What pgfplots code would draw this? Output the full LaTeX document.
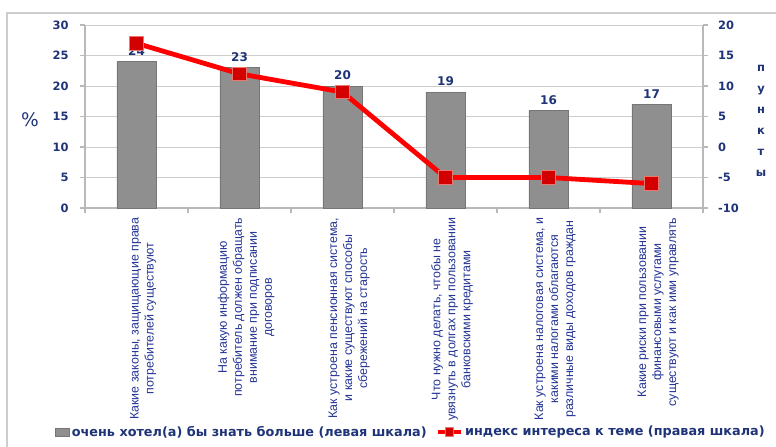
\documentclass[border=0pt]{standalone}
\usepackage{fontspec}
\setmainfont{Liberation Sans}
\newfontfamily\dvs{DejaVu Sans}
\newfontfamily\lib{Liberation Sans}
\usepackage{pgfplots}
\pgfplotsset{compat=1.18}
\definecolor{navy}{RGB}{31,52,120}
\definecolor{catblue}{RGB}{36,52,150}
\definecolor{gridgray}{RGB}{205,205,205}
\definecolor{axgray}{RGB}{185,185,185}
\definecolor{bargray}{RGB}{143,143,143}
\definecolor{bardark}{RGB}{118,118,118}
\definecolor{mkred}{RGB}{210,0,0}
\definecolor{mkedge}{RGB}{235,120,110}
\begin{document}
\begin{tikzpicture}
\useasboundingbox (0,0) rectangle (582pt,335.25pt);
% outer frame (top and left only visible)
\draw[color=gridgray, line width=1.1pt] (5.25pt,0pt) -- (5.25pt,325.5pt) -- (582pt,325.5pt);
\begin{axis}[
  at={(63.75pt,179.25pt)}, anchor=south west,
  scale only axis, width=463.5pt, height=137.25pt,
  xmin=-0.5, xmax=5.5, ymin=0, ymax=30,
  ybar, bar width=0.38,
  axis y line*=left, axis x line*=bottom,
  axis line style={color=axgray, line width=0.8pt},
  tick align=outside,
  ytick={0,5,...,30},
  ymajorgrids, grid style={color=gridgray, line width=0.7pt},
  major tick length=3.75pt, minor tick length=3.75pt,
  tick style={color=axgray, line width=0.8pt},
  xtick={0,...,5},
  major x tick style={draw=none},
  minor xtick={-0.5,0.5,...,5.5},
  xticklabels={
    {Какие законы, защищающие права\\потребителей существуют},
    {На какую информацию\\потребитель должен обращать\\внимание при подписании\\договоров},
    {Как устроена пенсионная система,\\и какие существуют способы\\сбережений на старость},
    {Что нужно делать, чтобы не\\увязнуть в долгах при пользовании\\банковскими кредитами},
    {Как устроена налоговая система, и\\какими налогами облагаются\\различные виды доходов граждан},
    {Какие риски при пользовании\\финансовыми услугами\\существуют и как ими управлять}},
  xticklabel style={rotate=90, anchor=east, align=center, text=catblue,
    font={\lib\fontsize{9.3}{11.25}\selectfont}, yshift=-5pt},
  yticklabel style={text=navy, font={\dvs\bfseries\fontsize{8.6}{10}\selectfont}, xshift=-5pt},
  /pgf/number format/assume math mode=true,
  nodes near coords,
  every node near coord/.append style={text=navy, font={\dvs\bfseries\fontsize{9}{10}\selectfont}, yshift=1pt},
]
\addplot[draw=bardark, line width=0.6pt, fill=bargray]
  coordinates {(0,24) (1,23) (2,20) (3,19) (4,16) (5,17)};
\end{axis}
\begin{axis}[
  at={(63.75pt,179.25pt)}, anchor=south west,
  scale only axis, width=463.5pt, height=137.25pt,
  xmin=-0.5, xmax=5.5, ymin=-10, ymax=20,
  axis y line*=right, axis x line=none,
  axis line style={color=axgray, line width=0.8pt},
  tick align=outside, major tick length=3.75pt,
  tick style={color=axgray, line width=0.8pt},
  ytick={-10,-5,...,20},
  yticklabel style={text=navy, font={\dvs\bfseries\fontsize{8.6}{10}\selectfont}, xshift=4pt},
  /pgf/number format/assume math mode=true,
  legend columns=2,
  legend style={at={(0.5275,-1.224)}, anchor=center, draw=none, fill=none,
    font={\dvs\bfseries\fontsize{9.6}{11}\selectfont}, text=navy,
    /tikz/every even column/.append style={column sep=5pt},
    inner sep=0pt},
  legend cell align=left,
]
\addlegendimage{legend image code/.code={
  \draw[draw=bardark, line width=0.4pt, fill=bargray] (0pt,-3pt) rectangle (10.5pt,3pt);}}
\addlegendentry{очень хотел(а) бы знать больше (левая шкала)}
\addplot[color=red, line width=3.6pt, mark=square*, mark size=5pt,
  mark options={fill=mkred, draw=mkedge, line width=0.7pt},
  legend image code/.code={
    \draw[color=red, line width=2.8pt] (0pt,0pt) -- (17pt,0pt);
    \draw[fill=mkred, draw=mkedge, line width=0.5pt] (5.2pt,-3.3pt) rectangle (11.8pt,3.3pt);}]
  coordinates {(0,17) (1,12) (2,9) (3,-5) (4,-5) (5,-6)};
\addlegendentry{индекс интереса к теме (правая шкала)}
\end{axis}
\node[text=navy, font={\dvs\fontsize{14}{16}\selectfont}] at (22.5pt,245.25pt) {\%};
\node[text=navy, align=center, font={\dvs\bfseries\fontsize{8.6}{15.75}\selectfont}] at (570.75pt,244.9pt) {п\\у\\н\\к\\т\\ы};
\end{tikzpicture}
\end{document}
